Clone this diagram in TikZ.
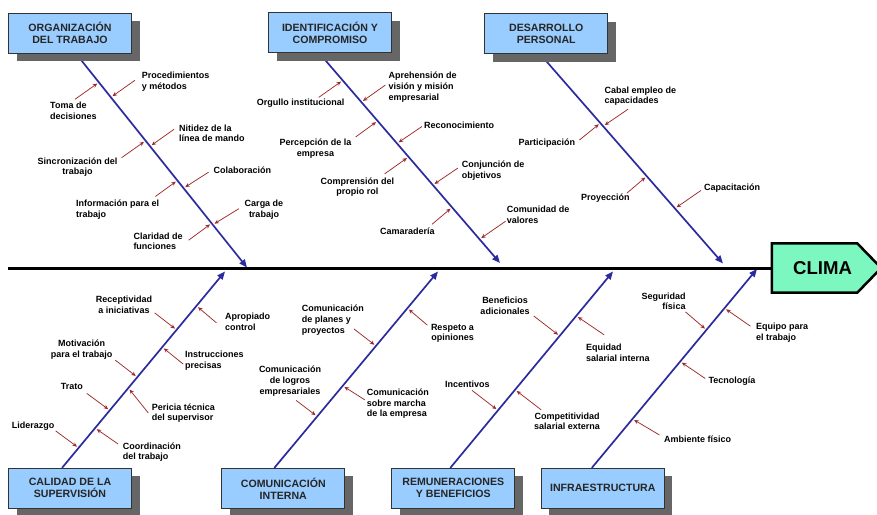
\documentclass[tikz,border=0pt]{standalone}
\usepackage{fontspec}
\setmainfont{Liberation Sans}
\usetikzlibrary{arrows.meta, shadows, calc, backgrounds}
\definecolor{boxblue}{HTML}{99CCFF}
\definecolor{boneblue}{HTML}{2B2B9E}
\definecolor{causered}{HTML}{9E2A2B}
\definecolor{climagreen}{HTML}{7CF7C0}
\tikzset{
    category/.style={
        rectangle,
        draw=black!80,
        line width=0.8pt,
        fill=boxblue,
        minimum width=123pt,
        minimum height=40pt,
        align=center,
        text=black!85,
        font=\fontsize{10.6}{12}\selectfont\bfseries,
        drop shadow={shadow xshift=8pt, shadow yshift=-8pt, fill=black!60, opacity=1}
    },
    effect/.style={
        rectangle,
        minimum width=85pt,
        minimum height=49pt,
        text width=75pt,
        align=right,
        font=\fontsize{18.6}{20}\selectfont\bfseries
    },
    effectline/.style={
        draw=black,
        line width=2.5pt,
        line join=miter,
        fill=climagreen
    },
    spine/.style={
        draw=black,
        line width=3pt
    },
    bone/.style={
        draw=boneblue,
        line width=1.7pt,
        -{Triangle[length=8pt, width=6.5pt]}
    },
    cause/.style={
        draw=causered,
        line width=0.75pt,
        {Stealth[length=4.5pt, width=4pt]}-,
        shorten <=2pt
    },
    lbl/.style={
        inner sep=0pt,
        align=left,
        font=\fontsize{9}{10.7}\selectfont\bfseries
    }
}

\begin{document}
\begin{tikzpicture}[x=1pt, y=-1pt]
\useasboundingbox (0,0) rectangle (877,514);

\node[category] (org) at (70,33.3)    {ORGANIZACIÓN\\DEL TRABAJO};
\node[category] (ide) at (330,32.5)   {IDENTIFICACIÓN Y\\COMPROMISO};
\node[category] (des) at (546.2,33.8) {DESARROLLO\\PERSONAL};
\node[category] (cal) at (70,488.3)   {CALIDAD DE LA\\SUPERVISIÓN};
\node[category] (com) at (283.3,488.3) {COMUNICACIÓN\\INTERNA};
\node[category] (rem) at (453.3,488.3) {REMUNERACIONES\\Y BENEFICIOS};
\node[category] (inf) at (602.8,488.3) {INFRAESTRUCTURA};
\node[effect]   (clima) at (814.5,268) {CLIMA};

\coordinate (sp) at (8,268);
\coordinate (o1) at ([xshift=6pt]org.south);
\coordinate (o2) at ([xshift=-11pt]ide.south);
\coordinate (o3) at ([xshift=-6pt]des.south);
\coordinate (o4) at ([xshift=-8pt]cal.north);
\coordinate (o5) at ([xshift=-9pt]com.north);
\coordinate (o6) at ([xshift=-3pt]rem.north);
\coordinate (o7) at ([xshift=-11pt]inf.north);
\coordinate (e1) at (247,267.5);
\coordinate (e2) at (500,263);
\coordinate (e3) at (723,263.5);
\coordinate (e4) at (225,271.5);
\coordinate (e5) at (438,271.5);
\coordinate (e6) at (613,271.5);
\coordinate (e7) at (757,269);

\draw[spine] (sp) -- (clima.west);
\begin{scope}[on background layer]
    \draw[effectline] (clima.north west) -- (clima.north east) -- ([xshift=24pt]clima.east)
        -- (clima.south east) -- (clima.south west) -- cycle;
    \draw[bone] (o1) -- (e1);
    \draw[bone] (o2) -- (e2);
    \draw[bone] (o3) -- (e3);
    \draw[bone] (o4) -- (e4);
    \draw[bone] (o5) -- (e5);
    \draw[bone] (o6) -- (e6);
    \draw[bone] (o7) -- (e7);
\end{scope}

\node[lbl, anchor=west]              (toma)    at (50,110.8)   {Toma de\\decisiones};
\node[lbl, anchor=west]              (proced)  at (141.7,81.7) {Procedimientos\\y métodos};
\node[lbl, anchor=west]              (nitidez) at (179,133.3)  {Nitidez de la\\línea de mando};
\node[lbl, align=center]             (sincro)  at (77.5,167)   {Sincronización del\\trabajo};
\node[lbl, anchor=west]              (colab)   at (213.3,170)  {Colaboración};
\node[lbl, anchor=west]              (inform)  at (76,209.5)   {Información para el\\trabajo};
\node[lbl, align=center]             (carga)   at (264,209.5)  {Carga de\\trabajo};
\node[lbl, anchor=west]              (clarid)  at (133.3,241.3) {Claridad de\\funciones};
\draw[cause] ($(o1)!.134!(e1)$) -- ++(-24,17);
\draw[cause] ($(o1)!.204!(e1)$) -- ++(24,-17);
\draw[cause] ($(o1)!.433!(e1)$) -- ++(24,-17);
\draw[cause] ($(o1)!.407!(e1)$) -- ++(-24,17);
\draw[cause] ($(o1)!.629!(e1)$) -- ++(25,-16);
\draw[cause] ($(o1)!.593!(e1)$) -- ++(-22,16);
\draw[cause] ($(o1)!.800!(e1)$) -- ++(26,-16);
\draw[cause] ($(o1)!.793!(e1)$) -- ++(-23,17);

\node[lbl, anchor=west]              (orgullo) at (256.7,102.7) {Orgullo institucional};
\node[lbl, anchor=west]              (aprehen) at (388.3,87)    {Aprehensión de\\visión y misión\\empresarial};
\node[lbl, align=center]             (percep)  at (315.5,148.7) {Percepción de la\\empresa};
\node[lbl, anchor=west]              (recono)  at (424,125)     {Reconocimiento};
\node[lbl, align=center]             (compren) at (357.3,187)   {Comprensión del\\propio rol};
\node[lbl, anchor=west]              (conjun)  at (461.7,170.3) {Conjunción de\\objetivos};
\node[lbl, anchor=west]              (camara)  at (380,231)     {Camaradería};
\node[lbl, anchor=west]              (comuni)  at (506.7,214.5) {Comunidad de\\valores};
\draw[cause] ($(o2)!.131!(e2)$) -- ++(-24,17);
\draw[cause] ($(o2)!.234!(e2)$) -- ++(24,-17);
\draw[cause] ($(o2)!.324!(e2)$) -- ++(-22,16);
\draw[cause] ($(o2)!.431!(e2)$) -- ++(25,-17);
\draw[cause] ($(o2)!.495!(e2)$) -- ++(-24,17);
\draw[cause] ($(o2)!.629!(e2)$) -- ++(25,-17);
\draw[cause] ($(o2)!.735!(e2)$) -- ++(-20,17);
\draw[cause] ($(o2)!.887!(e2)$) -- ++(26,-18);

\node[lbl, anchor=west]              (cabal)   at (604.3,96.2)  {Cabal empleo de\\capacidades};
\node[lbl, anchor=west]              (partic)  at (518.3,143.3) {Participación};
\node[lbl, anchor=west]              (proyec)  at (581,198.3)   {Proyección};
\node[lbl, anchor=west]              (capaci)  at (704,187.7)   {Capacitación};
\draw[cause] ($(o3)!.344!(e3)$) -- ++(25,-17);
\draw[cause] ($(o3)!.329!(e3)$) -- ++(-21,17);
\draw[cause] ($(o3)!.583!(e3)$) -- ++(-20,17);
\draw[cause] ($(o3)!.737!(e3)$) -- ++(26,-18);

\node[lbl, align=center]             (recept)  at (124,304.5)   {Receptividad\\a iniciativas};
\node[lbl, anchor=west]              (apropi)  at (225,322)     {Apropiado\\control};
\node[lbl, align=center]             (motiva)  at (81.7,349.5)  {Motivación\\para el trabajo};
\node[lbl, anchor=west]              (instru)  at (185,360.8)   {Instrucciones\\precisas};
\node[lbl, anchor=west]              (trato)   at (60.7,386.7)  {Trato};
\node[lbl, anchor=west]              (pericia) at (151.7,413)   {Pericia técnica\\del supervisor};
\node[lbl, anchor=west]              (lider)   at (11.7,425.7)  {Liderazgo};
\node[lbl, anchor=west]              (coordi)  at (122.7,452)   {Coordinación\\del trabajo};
\draw[cause] ($(o4)!.703!(e4)$) -- ++(-22,-17);
\draw[cause] ($(o4)!.825!(e4)$) -- ++(20,17);
\draw[cause] ($(o4)!.462!(e4)$) -- ++(-22,-17);
\draw[cause] ($(o4)!.615!(e4)$) -- ++(21,17);
\draw[cause] ($(o4)!.293!(e4)$) -- ++(-23,-17);
\draw[cause] ($(o4)!.407!(e4)$) -- ++(20,25);
\draw[cause] ($(o4)!.102!(e4)$) -- ++(-23,-17);
\draw[cause] ($(o4)!.203!(e4)$) -- ++(23,16);

\node[lbl, anchor=west]              (planes)  at (301.7,320)   {Comunicación\\de planes y\\proyectos};
\node[lbl, align=center]             (respeto) at (452.5,333.3) {Respeto a\\opiniones};
\node[lbl, align=center]             (logros)  at (290,381.3)   {Comunicación\\de logros\\empresariales};
\node[lbl, anchor=west]              (marcha)  at (366.7,403.7) {Comunicación\\sobre marcha\\de la empresa};
\draw[cause] ($(o5)!.621!(e5)$) -- ++(-22,-17);
\draw[cause] ($(o5)!.813!(e5)$) -- ++(20,17);
\draw[cause] ($(o5)!.262!(e5)$) -- ++(-21,-16);
\draw[cause] ($(o5)!.418!(e5)$) -- ++(22,14);

\node[lbl, align=center]             (benef)   at (505,305.5)   {Beneficios\\adicionales};
\node[lbl, anchor=west]              (equidad) at (586,352.5)   {Equidad\\salarial interna};
\node[lbl, anchor=west]              (incent)  at (445,384.3)   {Incentivos};
\node[lbl, align=center]             (competi) at (567,421.3)   {Competitividad\\salarial externa};
\draw[cause] ($(o6)!.672!(e6)$) -- ++(-26,-20);
\draw[cause] ($(o6)!.774!(e6)$) -- ++(28,19);
\draw[cause] ($(o6)!.293!(e6)$) -- ++(-26,-20);
\draw[cause] ($(o6)!.398!(e6)$) -- ++(26,20);

\node[lbl, anchor=east, align=right] (seguri)  at (685.7,301.2) {Seguridad\\física};
\node[lbl, anchor=west]              (equipo)  at (756,332.5)   {Equipo para\\el trabajo};
\node[lbl, anchor=west]              (tecno)   at (708.3,380.7) {Tecnología};
\node[lbl, anchor=west]              (ambien)  at (664,439)     {Ambiente físico};
\draw[cause] ($(o7)!.694!(e7)$) -- ++(-21,-18);
\draw[cause] ($(o7)!.803!(e7)$) -- ++(26,18);
\draw[cause] ($(o7)!.535!(e7)$) -- ++(25,17);
\draw[cause] ($(o7)!.246!(e7)$) -- ++(27,16);
\end{tikzpicture}
\end{document}
